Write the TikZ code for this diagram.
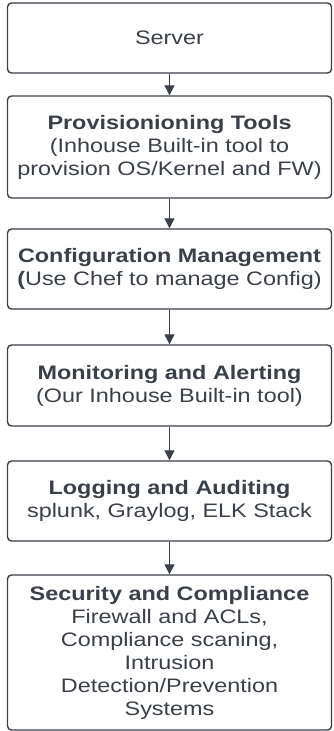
\documentclass[tikz,border=0pt]{standalone}
\usepackage{fontspec}
\setmainfont{Liberation Sans}[FakeStretch=1.2]
\usetikzlibrary{arrows.meta}
\definecolor{ink}{HTML}{3A4049}
\begin{document}
\begin{tikzpicture}[x=1pt,y=-1pt,
  box/.style={draw=ink, line width=1.4pt, rounded corners=4pt, minimum width=324pt,
    align=center, text=ink, font=\fontsize{19.5}{23}\selectfont, inner sep=0pt},
  link/.style={draw=ink, line width=1.1pt, -{Triangle[width=10pt,length=10pt]}}]
\useasboundingbox[fill=white] (0,0) rectangle (333,731);
\node[box, minimum height=70pt] (server) at (169.5,38) {Server};
\node[box, minimum height=102pt] (prov) at (169.5,147) {\textbf{Provisionioning Tools}\\(Inhouse Built-in tool to\\provision OS/Kernel and FW)};
\node[box, minimum height=80pt] (conf) at (169.5,269) {\textbf{Configuration Management}\\\textbf{(}Use Chef to manage Config)};
\node[box, minimum height=81pt] (mon) at (169.5,385.5) {\textbf{Monitoring and Alerting}\\(Our Inhouse Built-in tool)};
\node[box, minimum height=80pt] (log) at (169.5,501) {\textbf{Logging and Auditing}\\splunk, Graylog, ELK Stack};
\node[box, minimum height=155pt] (sec) at (169.5,652.5) {\textbf{Security and Compliance}\\Firewall and ACLs,\\Compliance scaning,\\Intrusion\\Detection/Prevention\\Systems};
\draw[link] (server) -- (prov);
\draw[link] (prov) -- (conf);
\draw[link] (conf) -- (mon);
\draw[link] (mon) -- (log);
\draw[link] (log) -- (sec);
\end{tikzpicture}
\end{document}
